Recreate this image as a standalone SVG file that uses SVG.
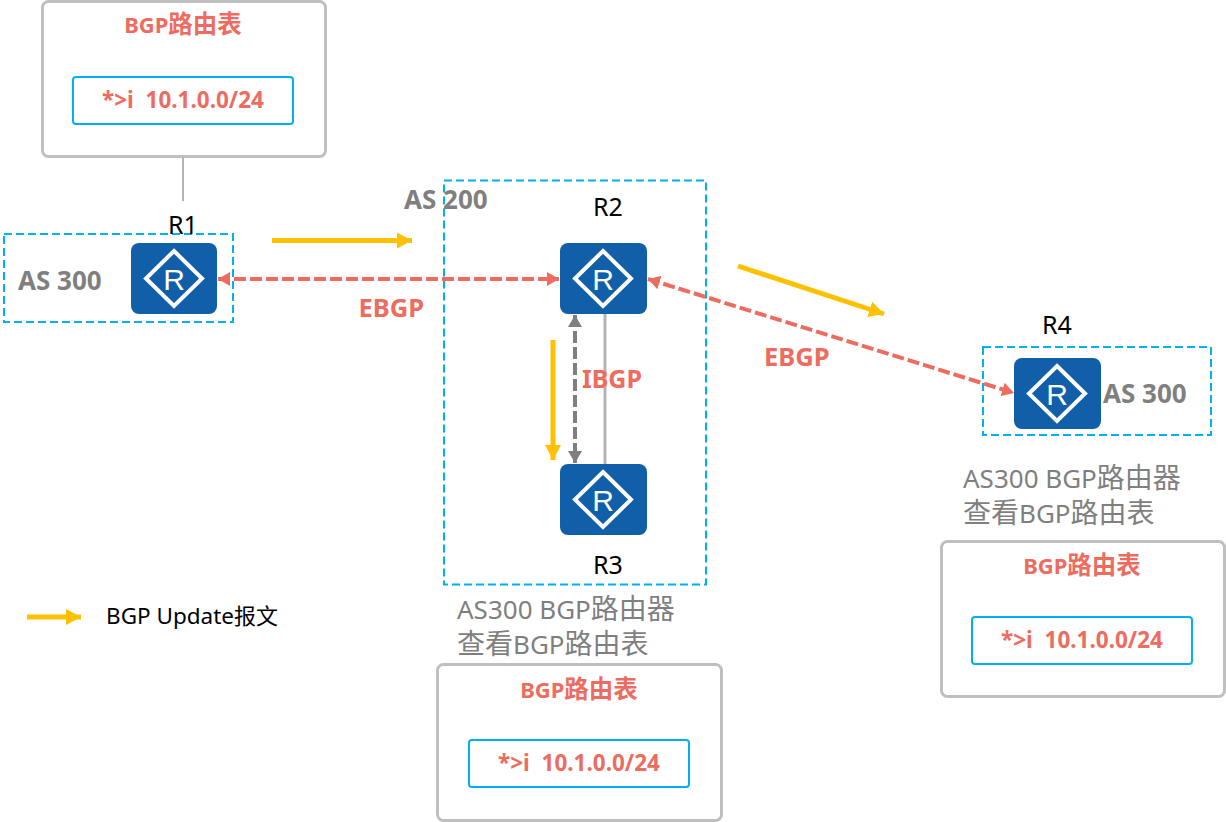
<svg xmlns="http://www.w3.org/2000/svg" width="1226" height="822" viewBox="0 0 1226 822">
<style>
text{font-family:"Noto Sans","Open Sans","Noto Sans CJK SC",sans-serif}
.panel{fill:#fff;stroke:#bfbfbf;stroke-width:3}
.entry{fill:#fff;stroke:#00b0f0;stroke-width:2}
.as{fill:none;stroke:#00b0f0;stroke-width:2;stroke-dasharray:8 4}
.red{fill:#ee6c5f;font-weight:700}
.gray{fill:#7f7f7f;font-weight:700}
.note{fill:#7f7f7f;font-size:26px;font-weight:400}
.cjk{font-size:28px}
.title{font-size:22px;text-anchor:middle}
.title .big{font-size:24.500px}
.rec{font-size:22.500px;text-anchor:middle}
.name{fill:#000;font-size:25px}
.body{fill:#115fa8}
.dia{fill:none;stroke:#fff;stroke-width:4}
.rr{fill:#fff;font-family:"Liberation Sans",sans-serif;font-size:30px;text-anchor:middle}
.link{stroke:#b3b3b3;stroke-width:2;fill:none}
.y{stroke:#ffc000;stroke-width:5;fill:none;marker-end:url(#ya)}
.e{stroke:#ee6c5f;stroke-width:4;stroke-dasharray:12 4;fill:none;marker-start:url(#ra);marker-end:url(#ra)}
.i{stroke:#7f7f7f;stroke-width:4;stroke-dasharray:12 4;fill:none;marker-start:url(#ga);marker-end:url(#ga)}
</style>
<defs>
<marker id="ya" markerUnits="userSpaceOnUse" markerWidth="16" markerHeight="16" refX="15" refY="8" orient="auto"><path d="M0 0L15 8L0 16Z" fill="#ffc000"/></marker>
<marker id="ra" markerUnits="userSpaceOnUse" markerWidth="13" markerHeight="14" refX="12" refY="7" orient="auto-start-reverse"><path d="M0 0L12 7L0 14Z" fill="#ee6c5f"/></marker>
<marker id="ga" markerUnits="userSpaceOnUse" markerWidth="13" markerHeight="14" refX="12" refY="7" orient="auto-start-reverse"><path d="M0 0L12 7L0 14Z" fill="#7f7f7f"/></marker>
</defs>

<g id="as-boxes">
<rect class="as" x="4" y="234" width="229" height="88"/>
<rect class="as" x="444" y="180.500" width="262" height="404"/>
<rect class="as" x="983" y="347" width="228" height="88"/>
</g>

<g id="connectors">
<line class="link" x1="183" y1="158" x2="183" y2="201"/>
<line class="link" x1="605" y1="314" x2="605" y2="464" style="stroke-width:3"/>
<line class="e" x1="218" y1="279" x2="559" y2="279"/>
<line class="e" x1="648" y1="279" x2="1014" y2="393"/>
<line class="i" x1="575" y1="315" x2="575" y2="463"/>
<line class="y" x1="272" y1="240.500" x2="412" y2="240.500"/>
<line class="y" x1="738" y1="266" x2="884" y2="314"/>
<line class="y" x1="553" y1="340" x2="553" y2="460"/>
<line class="y" x1="27" y1="617" x2="81" y2="617"/>
</g>

<g id="panel-r1">
<rect class="panel" x="42.500" y="1.500" width="283" height="155" rx="6"/>
<text class="red title" x="183" y="33">BGP<tspan class="big">路由表</tspan></text>
<rect class="entry" x="73" y="77" width="220" height="47" rx="3"/>
<text class="red rec" x="183" y="108" xml:space="preserve">*&gt;i  10.1.0.0/24</text>
</g>
<g id="panel-r3">
<rect class="panel" x="437.500" y="664.500" width="284" height="156" rx="6"/>
<text class="red title" x="579" y="698">BGP<tspan class="big">路由表</tspan></text>
<rect class="entry" x="469" y="740" width="220" height="47" rx="3"/>
<text class="red rec" x="579" y="771" xml:space="preserve">*&gt;i  10.1.0.0/24</text>
</g>
<g id="panel-r4">
<rect class="panel" x="941.500" y="541.500" width="283" height="155" rx="6"/>
<text class="red title" x="1082" y="574">BGP<tspan class="big">路由表</tspan></text>
<rect class="entry" x="972" y="617" width="220" height="47" rx="3"/>
<text class="red rec" x="1082" y="648" xml:space="preserve">*&gt;i  10.1.0.0/24</text>
</g>

<g id="r1">
<rect class="body" x="131" y="243" width="86" height="71" rx="8"/>
<path class="dia" d="M174 251L202 278.500L174 306L146 278.500Z"/>
<text class="rr" x="174" y="290">R</text>
<text class="name" x="183" y="234" text-anchor="middle">R1</text>
</g>
<g id="r2">
<rect class="body" x="560" y="243" width="87" height="71" rx="8"/>
<path class="dia" d="M603 251L631 278.500L603 306L575 278.500Z"/>
<text class="rr" x="603" y="290">R</text>
<text class="name" x="608" y="216" text-anchor="middle">R2</text>
</g>
<g id="r3">
<rect class="body" x="560" y="464" width="87" height="71" rx="8"/>
<path class="dia" d="M603 472L631 499.500L603 527L575 499.500Z"/>
<text class="rr" x="603" y="511">R</text>
<text class="name" x="608" y="574" text-anchor="middle">R3</text>
</g>
<g id="r4">
<rect class="body" x="1014" y="358" width="87" height="71" rx="8"/>
<path class="dia" d="M1057 366L1085 393.500L1057 421L1029 393.500Z"/>
<text class="rr" x="1057" y="405">R</text>
<text class="name" x="1057" y="334" text-anchor="middle">R4</text>
</g>

<g id="labels">
<text class="gray" x="18" y="290" font-size="26">AS 300</text>
<text class="gray" x="404" y="209" font-size="26">AS 200</text>
<text class="gray" x="1103" y="403" font-size="26">AS 300</text>
<text class="red" x="358.500" y="317" font-size="25.500">EBGP</text>
<text class="red" x="764" y="366" font-size="25.500">EBGP</text>
<text class="red" x="582" y="388" font-size="25">IBGP</text>
<text class="note" x="963" y="488">AS300 BGP<tspan class="cjk">路由器</tspan></text>
<text class="note" x="963" y="523"><tspan class="cjk">查看</tspan>BGP<tspan class="cjk">路由表</tspan></text>
<text class="note" x="457" y="619">AS300 BGP<tspan class="cjk">路由器</tspan></text>
<text class="note" x="457" y="654"><tspan class="cjk">查看</tspan>BGP<tspan class="cjk">路由表</tspan></text>
<text x="106" y="624" font-size="22.500" fill="#000">BGP Update<tspan font-size="22">报文</tspan></text>
</g>
</svg>
